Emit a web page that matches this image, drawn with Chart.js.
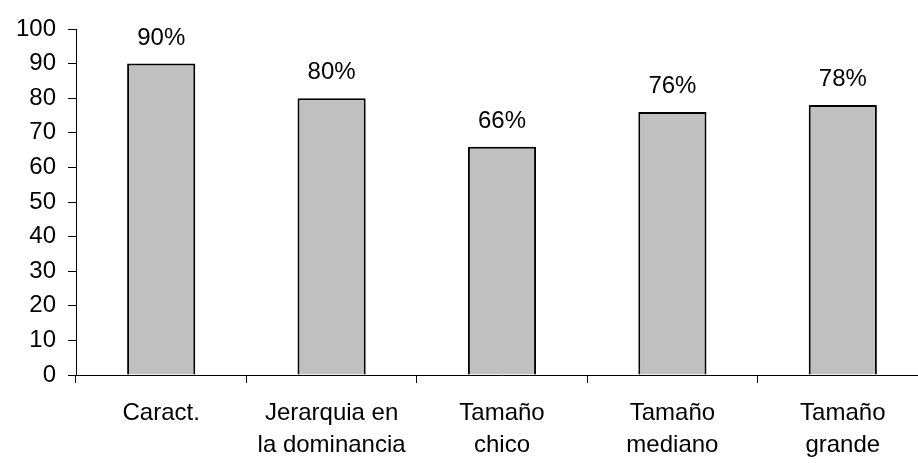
<!DOCTYPE html>
<html>
<head>
<meta charset="utf-8">
<script src="https://cdn.jsdelivr.net/npm/chart.js@4/dist/chart.umd.min.js"></script>
<style>
  html, body { margin: 0; padding: 0; background: #fff; overflow: hidden; }
  #wrap { width: 928px; height: 463px; }
</style>
</head>
<body>
<div id="wrap"><canvas id="chart"></canvas></div>
<script>
const categories = [
  'Caract.',
  ['Jerarquia en', 'la dominancia'],
  ['Tamaño', 'chico'],
  ['Tamaño', 'mediano'],
  ['Tamaño', 'grande']
]
const values = [90, 80, 66, 76, 78]
const yTicks = [0, 10, 20, 30, 40, 50, 60, 70, 80, 90, 100]

const FONT = { family: 'Liberation Sans, Arial, sans-serif', size: 24 }

// writes "NN%" over each bar
const valueLabels = {
  id: 'valueLabels',
  afterDatasetsDraw(chart) {
    const ctx = chart.ctx
    const meta = chart.getDatasetMeta(0)
    ctx.save()
    ctx.font = FONT.size + 'px ' + FONT.family
    ctx.fillStyle = '#000'
    ctx.textAlign = 'center'
    ctx.textBaseline = 'alphabetic'
    meta.data.forEach((bar, i) => {
      ctx.fillText(values[i] + '%', bar.x, bar.y - 19)
    })
    ctx.restore()
  }
}

new Chart(document.getElementById('chart'), {
  type: 'bar',
  data: {
    labels: categories,
    datasets: [{
      data: values,
      backgroundColor: '#c0c0c0',
      borderColor: '#000',
      borderWidth: 2,
      barPercentage: 0.4,
      categoryPercentage: 1
    }]
  },
  options: {
    responsive: true,
    maintainAspectRatio: false,
    animation: false,
    layout: { padding: { top: 29, right: 0, left: 0, bottom: 0 } },
    plugins: {
      legend: { display: false },
      tooltip: { enabled: false }
    },
    scales: {
      y: {
        min: 0,
        max: 100,
        afterBuildTicks: axis => { axis.ticks = yTicks.map(v => ({ value: v })) },
        afterFit: axis => { axis.width = 76 },
        grid: { drawOnChartArea: false, drawTicks: true, tickLength: 8, color: '#000' },
        border: { display: true, color: '#000', width: 1 },
        ticks: { color: '#000', font: FONT, padding: 12 }
      },
      x: {
        afterFit: axis => { axis.height = 88 },
        grid: { offset: true, drawOnChartArea: false, drawTicks: true, tickLength: 8, color: '#000' },
        border: { display: true, color: '#000', width: 1 },
        ticks: { color: '#000', font: { ...FONT, lineHeight: 1.35 }, padding: 14, maxRotation: 0, autoSkip: false }
      }
    }
  },
  plugins: [valueLabels]
})
</script>
</body>
</html>
